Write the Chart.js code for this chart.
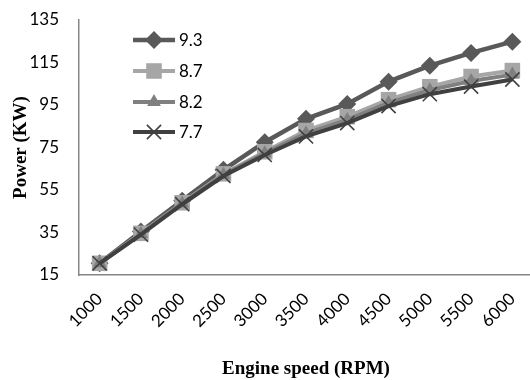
<!DOCTYPE html>
<html>
<head>
<meta charset="utf-8">
<script src="https://cdn.jsdelivr.net/npm/chart.js@4/dist/chart.umd.min.js"></script>
<style>
  html, body { margin: 0; padding: 0; background: #fff; overflow: hidden; }
  #wrap { width: 530px; height: 380px; position: relative; overflow: hidden; }
  #c { position: absolute; left: 0; top: 0; }
</style>
</head>
<body>
<div id="wrap"><canvas id="c" width="533" height="380"></canvas></div>
<script>
const categories = ['1000', '1500', '2000', '2500', '3000', '3500', '4000', '4500', '5000', '5500', '6000'];
const seriesNames = ['9.3', '8.7', '8.2', '7.7'];
const power93 = [20.5, 35.5, 50, 64.5, 77.5, 88.5, 95.5, 106, 113.5, 119.5, 124.8];
const power87 = [20.5, 34.6, 49, 62.6, 73, 83, 89.5, 97.5, 103.6, 108.4, 111.2];
const power82 = [20.5, 34.3, 48.7, 62.2, 72.3, 81.6, 88, 96, 102, 106.3, 109.3];
const power77 = [20.5, 34, 48.3, 61.6, 71.5, 80.2, 86.5, 94.5, 100.1, 103.7, 107];
const yTicks = [15, 35, 55, 75, 95, 115, 135];

const tickFont = { family: 'Lato, "Open Sans", sans-serif', size: 17 };
const titleFont = { family: '"Liberation Serif", "Times New Roman", serif', size: 19, weight: 'bold' };

const styles = [
  { color: '#595959', point: 'rectRot', radius: 9, width: 4.5, order: 4 },
  { color: '#a6a6a6', point: 'rect', radius: 11, width: 4, order: 3 },
  { color: '#808080', point: 'triangle', radius: 8, width: 4, order: 2 },
  { color: '#404040', point: 'crossRot', radius: 10, width: 4, order: 1 }
];
const values = [power93, power87, power82, power77];

const datasets = values.map((v, i) => {
  const s = styles[i];
  const isCross = s.point === 'crossRot';
  return {
    label: seriesNames[i],
    data: v,
    borderColor: s.color,
    backgroundColor: s.color,
    borderWidth: s.width,
    pointStyle: s.point,
    pointRadius: s.radius,
    pointHoverRadius: s.radius,
    pointBackgroundColor: s.color,
    pointBorderColor: s.color,
    pointBorderWidth: isCross ? 1.6 : 0,
    tension: 0,
    fill: false,
    clip: false,
    order: s.order
  };
});

const legendPlugin = {
  id: 'customLegend',
  afterDraw(chart) {
    const ctx = chart.ctx;
    const rows = [40, 71, 102, 132];
    ctx.save();
    chart.data.datasets.forEach((ds, i) => {
      const y = rows[i];
      ctx.strokeStyle = ds.borderColor;
      ctx.lineWidth = ds.borderWidth;
      ctx.beginPath();
      ctx.moveTo(133, y);
      ctx.lineTo(175, y);
      ctx.stroke();
      ctx.fillStyle = ds.pointBackgroundColor;
      ctx.strokeStyle = ds.pointBorderColor;
      ctx.lineWidth = ds.pointBorderWidth || 0.001;
      Chart.helpers.drawPoint(ctx, { pointStyle: ds.pointStyle, radius: ds.pointRadius, rotation: 0, borderWidth: ds.pointBorderWidth }, 154, y);
      ctx.fillStyle = '#000';
      ctx.font = '17px ' + tickFont.family;
      ctx.textBaseline = 'middle';
      ctx.textAlign = 'left';
      ctx.fillText(ds.label, 179, y + 1);
    });
    ctx.restore();
  }
};

new Chart(document.getElementById('c'), {
  type: 'line',
  data: { labels: categories, datasets: datasets },
  options: {
    responsive: false,
    animation: false,
    devicePixelRatio: 1,
    layout: { autoPadding: false, padding: { top: 20, right: 0, left: 0, bottom: 0 } },
    plugins: { legend: { display: false }, tooltip: { enabled: false } },
    scales: {
      x: {
        type: 'category',
        offset: true,
        grid: { display: false, drawTicks: false },
        border: { display: true, color: '#868686', width: 1.5 },
        ticks: { color: '#000', font: tickFont, minRotation: 45, maxRotation: 45, padding: 14, autoSkip: false },
        title: { display: true, text: 'Engine speed (RPM)', color: '#000', font: titleFont, padding: { top: 0, bottom: 0 } },
        afterFit(axis) { axis.height = 105; axis.paddingRight = 0; axis.paddingLeft = 0; }
      },
      y: {
        min: 15, max: 135,
        afterBuildTicks(axis) { axis.ticks = yTicks.map(v => ({ value: v })); },
        grid: { display: false, drawTicks: false },
        border: { display: true, color: '#868686', width: 1.5 },
        ticks: { color: '#000', font: tickFont, padding: 20 },
        title: { display: true, text: 'Power (KW)', color: '#000', font: titleFont, padding: { top: 10, bottom: 0 } },
        afterFit(axis) { axis.width = 79; axis.paddingTop = 0; axis.paddingBottom = 0; }
      }
    }
  },
  plugins: [legendPlugin]
});
</script>
</body>
</html>
